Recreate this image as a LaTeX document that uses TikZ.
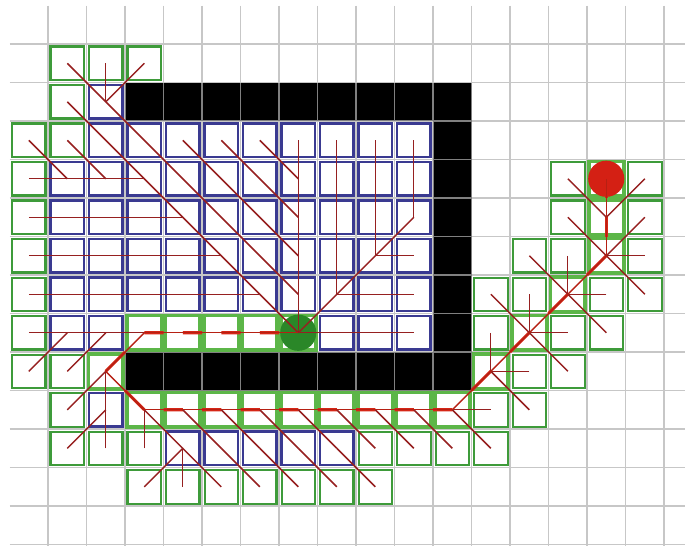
\documentclass[tikz,border=0pt]{standalone}
\usepackage{tikz}
\usetikzlibrary{calc}
\definecolor{gridgray}{RGB}{178,178,178}
\definecolor{opengreen}{RGB}{62,155,58}
\definecolor{closedblue}{RGB}{58,58,145}
\definecolor{pathgreen}{RGB}{92,182,72}
\definecolor{treered}{RGB}{150,32,32}
\definecolor{routered}{RGB}{214,38,22}
\definecolor{startgreen}{RGB}{42,135,40}
\definecolor{goalred}{RGB}{212,32,20}
\def\route{6/8,5/8,4/8,3/8,2/9,3/10,4/10,5/10,6/10,7/10,8/10,9/10,10/10,11/10,12/9,13/8,14/7,15/6,15/5,15/4}
\begin{document}
\begin{tikzpicture}[cell/.style={rectangle,inner sep=0pt,outer sep=0pt,minimum size=8.7mm}, wall/.style={cell,fill=black,minimum size=10mm}, open/.style={cell,draw=opengreen,line width=1.5pt}, closed/.style={cell,draw=closedblue,line width=1.6pt}, onpath/.style={cell,draw=pathgreen,line width=2.7pt,minimum size=9.05mm}, gridline/.style={draw=gridgray,draw opacity=.72,line width=1.4pt}, tree/.style={draw=treered,line width=1.05pt}, treehi/.style={draw=routered!85!black,line width=1.05pt}, halfstep/.style={draw=routered,line width=2.3pt}, dot/.style={circle,inner sep=0pt,minimum size=9.4mm}]
\useasboundingbox (-0.247,0.143) rectangle (17.545,-14.039);
\foreach \c in {3,...,11} {\node[wall] (w-\c-2) at (\c+.5,-2.5) {}; \node[wall] (w-\c-9) at (\c+.5,-9.5) {};}
\foreach \r in {3,...,8} \node[wall] (w-11-\r) at (11.5,-\r-.5) {};
\draw[gridline] \foreach \c in {1,...,17} {(\c,0) -- (\c,-14.04)} \foreach \r in {1,...,14} {(0,-\r) -- (17.55,-\r)};
\foreach \r in {4,...,7} \foreach \c in {1,...,10} \node[closed] (n-\c-\r) at (\c+.5,-\r-.5) {};
\foreach \c/\r in {2/2,2/3,3/3,4/3,5/3,6/3,7/3,8/3,9/3,10/3,1/8,2/8,8/8,9/8,10/8,2/10,4/11,5/11,6/11,7/11,8/11} \node[closed] (n-\c-\r) at (\c+.5,-\r-.5) {};
\foreach \c/\r in {1/1,2/1,3/1,1/2,0/3,1/3,0/4,0/5,0/6,0/7,0/8,0/9,1/9,1/10,1/11,2/11,3/11,9/11,10/11,11/11,12/11,3/12,4/12,5/12,6/12,7/12,8/12,9/12,12/10,13/10,13/9,14/9,12/8,14/8,15/8,12/7,13/7,15/7,16/7,13/6,14/6,16/6,14/5,16/5,14/4,16/4} \node[open] (n-\c-\r) at (\c+.5,-\r-.5) {};
\node[onpath] (n-7-8) at (7.5,-8.5) {};
\foreach \c/\r in \route \node[onpath] (n-\c-\r) at (\c+.5,-\r-.5) {};
\foreach \c/\r [remember=\c as \pc (initially 7), remember=\r as \pr (initially 8)] in \route \draw[halfstep] (n-\c-\r.center) -- ($(n-\c-\r.center)!.5!(n-\pc-\pr.center)$);
\node[dot,fill=startgreen] (start) at (n-7-8) {};
\node[dot,fill=goalred] (goal) at (n-15-4) {};
\foreach \a/\b/\p/\q in {1/1/7/7,2/1/2/2,3/1/2/2,1/2/7/8,0/3/1/4,1/3/2/4,4/3/7/6,5/3/7/5,6/3/7/4, 0/4/3/4,0/5/4/5,0/6/5/6,0/7/6/7,0/8/3/8, 7/3/7/8,8/3/8/7,9/3/9/6,10/3/10/5,10/5/7/8,10/6/9/6,10/7/8/7,10/8/7/8, 0/9/1/8,1/9/2/8,1/10/2/9,2/11/2/9,1/11/2/10,3/11/3/10, 4/11/3/10,5/11/4/10,6/11/5/10,7/11/6/10,8/11/7/10,9/11/8/10,10/11/9/10,11/11/10/10,12/11/11/10, 3/12/4/11,4/12/4/11,5/12/4/11,6/12/5/11,7/12/6/11,8/12/7/11,9/12/8/11, 12/10/11/10,13/10/12/9,13/9/12/9,14/9/13/8,12/8/12/9,14/8/13/8,15/8/14/7,12/7/13/8,13/7/13/8,15/7/14/7,16/7/15/6,13/6/14/7,14/6/14/7,16/6/15/6,14/5/15/6,16/5/15/6,14/4/15/5,16/4/15/5} \draw[tree] (n-\a-\b.center) -- (n-\p-\q.center);
\foreach \c/\r [remember=\c as \pc (initially 7), remember=\r as \pr (initially 8)] in \route \draw[treehi] (n-\c-\r.center) -- (n-\pc-\pr.center);
\end{tikzpicture}
\end{document}
